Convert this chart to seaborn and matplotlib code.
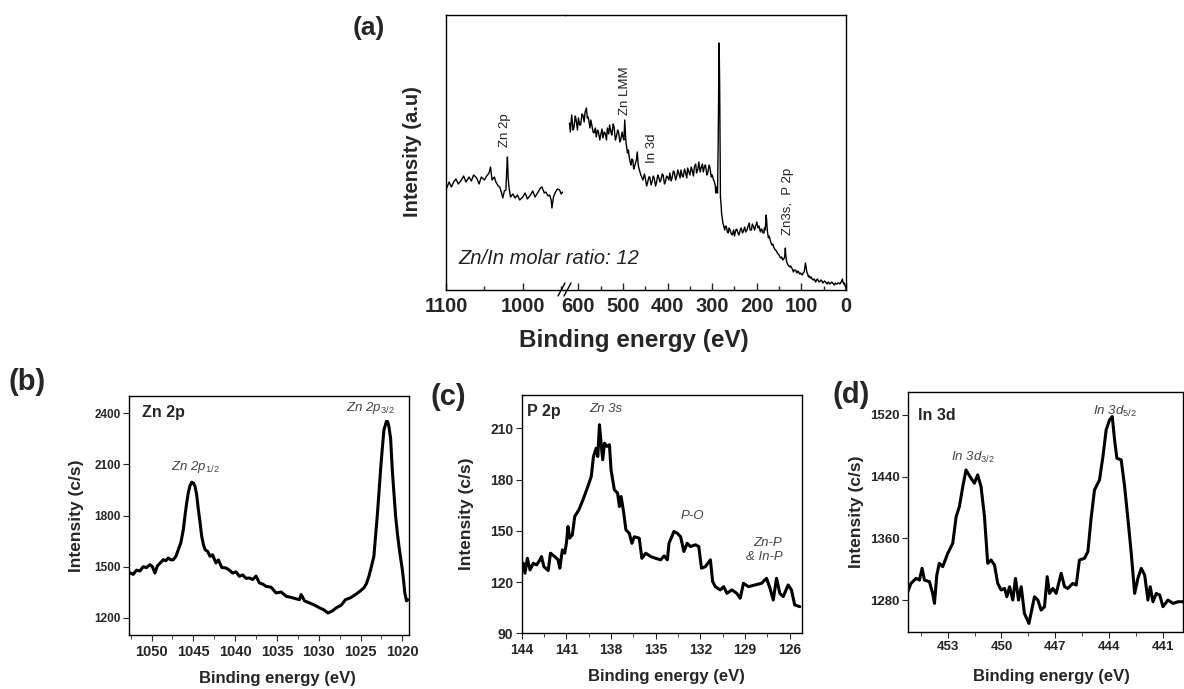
import matplotlib
matplotlib.use("Agg")
import matplotlib.pyplot as plt
from matplotlib.lines import Line2D
from matplotlib.ticker import MultipleLocator
import pandas as pd
import seaborn as sns

# ---------------- data ----------------
# (a) survey spectrum, high binding-energy segment (eV, a.u.)
survey_hi_ev = [1100, 1096, 1093, 1090, 1087, 1084, 1080, 1077, 1074, 1070, 1067, 1064, 1060, 1057, 1054,
                1050, 1047, 1044, 1042, 1040, 1037, 1035, 1032, 1030, 1028, 1026, 1024, 1022, 1021, 1020,
                1019, 1018, 1016, 1013, 1010, 1007, 1004, 1000, 997, 994, 990, 987, 984, 980, 977, 975,
                972, 970, 967, 965, 963, 962, 960, 958, 955, 952, 950, 948]
survey_hi_int = [100, 108, 103, 108, 111, 106, 110, 114, 108, 113, 109, 115, 112, 106, 113,
                 110, 114, 117, 123, 110, 113, 108, 104, 103, 98, 92, 99, 100, 118, 133,
                 112, 103, 93, 96, 92, 95, 90, 93, 97, 91, 95, 99, 93, 98, 102, 103,
                 97, 98, 94, 95, 90, 82, 93, 97, 101, 100, 96, 98]

# (a) survey spectrum, low binding-energy segment (eV, a.u.)
survey_lo_ev = [620, 618, 615, 612, 610, 607, 605, 602, 600, 597, 595, 592, 590, 587, 585, 582, 580, 578,
                576, 574, 572, 570, 567, 565, 562, 560, 557, 555, 552, 550, 547, 545, 542, 540, 537, 535,
                532, 530, 527, 525, 522, 520, 517, 515, 512, 510, 507, 505, 502, 500, 498, 496, 494, 493,
                490, 488, 486, 484, 482, 480, 478, 476, 475, 472, 470, 468, 466, 465, 462, 460, 457, 455,
                452, 450, 447, 445, 442, 440, 437, 435, 432, 430, 427, 425, 422, 420, 417, 415, 412, 410,
                407, 405, 402, 400, 397, 395, 392, 390, 387, 385, 382, 380, 377, 375, 372, 370, 367, 365,
                362, 360, 357, 355, 352, 350, 347, 345, 342, 340, 337, 335, 332, 330, 327, 325, 322, 320,
                317, 315, 312, 310, 307, 305, 302, 300, 297, 295, 293, 292, 290, 288, 286.5, 285.5, 284.5,
                283.5, 283, 282, 281.5, 280, 279, 277, 276, 274, 272, 270, 268, 266, 264, 262, 260, 257,
                255, 252, 250, 247, 245, 242, 240, 237, 235, 232, 230, 227, 225, 222, 220, 217, 215, 212,
                210, 207, 205, 202, 200, 197, 195, 192, 190, 188, 186, 184, 183, 181, 180, 179, 178, 177,
                176, 174, 172, 170, 168, 166, 164, 162, 160, 158, 156, 154, 152, 150, 148, 146, 144, 142,
                140, 138, 137, 136, 135, 133, 132, 130, 128, 126, 124, 122, 120, 118, 116, 114, 112, 110,
                108, 106, 104, 102, 100, 98, 96, 94, 93, 92, 91, 89, 88, 86, 84, 82, 80, 78, 76, 74, 72,
                70, 68, 66, 64, 62, 60, 58, 56, 54, 52, 50, 48, 46, 44, 42, 40, 38, 36, 34, 32, 30, 28,
                26, 24, 22, 20, 18, 16, 14, 12, 10, 8, 7, 5, 4, 2, 1, 0]
survey_lo_int = [167, 158, 175, 160, 162, 174, 170, 160, 172, 165, 165, 176, 175, 168, 178, 182, 172, 173,
                 168, 162, 170, 165, 158, 157, 162, 153, 160, 158, 150, 155, 161, 152, 158, 157, 150, 162,
                 156, 165, 158, 155, 166, 163, 150, 153, 160, 158, 148, 150, 158, 153, 150, 170, 152, 147,
                 137, 140, 133, 128, 125, 131, 130, 121, 122, 127, 130, 138, 126, 123, 118, 115, 112, 110,
                 116, 112, 104, 107, 113, 113, 105, 108, 114, 112, 104, 107, 115, 113, 108, 110, 116, 115,
                 106, 108, 114, 113, 110, 117, 109, 112, 119, 118, 110, 113, 120, 117, 112, 120, 114, 113,
                 121, 118, 112, 122, 118, 115, 123, 120, 114, 123, 126, 117, 121, 128, 118, 122, 126, 118,
                 124, 125, 115, 117, 125, 122, 113, 115, 110, 108, 104, 97, 103, 97, 150, 205, 247,
                 215, 190, 120, 93, 85, 77, 70, 67, 64, 60, 64, 63, 58, 57, 62, 60, 56, 55,
                 60, 54, 60, 61, 57, 55, 60, 62, 57, 59, 63, 58, 60, 63, 67, 60, 60, 66,
                 63, 60, 65, 68, 62, 64, 58, 61, 60, 57, 57, 62, 60, 68, 75, 70, 63, 58,
                 52, 54, 50, 47, 45, 46, 43, 41, 40, 39, 37, 36, 35, 33, 32, 33, 30, 31,
                 32, 36, 42, 35, 28, 27, 25, 24, 23, 24, 22, 21, 18, 20, 20, 19, 17, 19,
                 18, 16, 17, 16, 15, 17, 18, 20, 24, 27, 22, 18, 16, 13, 14, 12, 13, 11, 10, 11, 10,
                 8, 10, 11, 9, 8, 9, 10, 9, 7, 8, 9, 8, 7, 6, 8, 7, 6, 7, 8, 7, 6, 5,
                 7, 6, 6, 7, 7, 6, 7, 9, 11, 8, 6, 7, 4, 3, 1]

# (b) Zn 2p
zn2p_ev = [1052.6, 1052.2, 1051.8, 1051.4, 1051.0, 1050.6, 1050.2, 1049.9, 1049.6, 1049.3, 1049.0, 1048.6,
           1048.3, 1048.0, 1047.7, 1047.4, 1047.1, 1046.8, 1046.5, 1046.2, 1046.0, 1045.8, 1045.6, 1045.4,
           1045.2, 1045.0, 1044.8, 1044.6, 1044.4, 1044.2, 1044.0, 1043.8, 1043.6, 1043.3, 1043.0, 1042.7,
           1042.3, 1042.0, 1041.6, 1041.1, 1040.7, 1040.3, 1039.9, 1039.5, 1039.1, 1038.7, 1038.3, 1037.9,
           1037.5, 1037.1, 1036.7, 1036.3, 1035.7, 1035.1, 1034.5, 1033.9, 1033.3, 1032.7, 1032.3, 1032.1,
           1031.7, 1031.1, 1030.5, 1029.9, 1029.4, 1028.9, 1028.4, 1027.9, 1027.3, 1026.8, 1026.2, 1025.6,
           1025.1, 1024.6, 1024.3, 1024.0, 1023.7, 1023.4, 1023.2, 1023.0, 1022.8, 1022.6, 1022.4, 1022.2,
           1022.0, 1021.9, 1021.75, 1021.6, 1021.4, 1021.2, 1021.0, 1020.8, 1020.6, 1020.4, 1020.2, 1020.0,
           1019.85, 1019.7, 1019.5, 1019.35]
zn2p_int = [1465, 1455, 1480, 1475, 1500, 1495, 1512, 1500, 1463, 1505, 1520, 1541,
            1535, 1551, 1540, 1541, 1560, 1600, 1640, 1717, 1800, 1873, 1935, 1975,
            1995, 1990, 1971, 1920, 1834, 1760, 1678, 1630, 1600, 1590, 1561, 1570,
            1522, 1540, 1495, 1493, 1480, 1463, 1470, 1444, 1452, 1432, 1434, 1425,
            1445, 1405, 1398, 1385, 1380, 1346, 1352, 1327, 1320, 1312, 1307, 1337,
            1300, 1288, 1275, 1259, 1248, 1229, 1240, 1259, 1275, 1307, 1318, 1337,
            1355, 1376, 1400, 1444, 1500, 1561, 1680, 1795, 1930, 2068, 2190, 2302,
            2335, 2351, 2350, 2320, 2250, 2068, 1930, 1795, 1700, 1619, 1550, 1483,
            1420, 1346, 1300, 1307]

# (c) P 2p
p2p_ev = [144.0, 143.89, 143.78, 143.62, 143.44, 143.22, 143.0, 142.78, 142.67, 142.51, 142.22, 142.07,
          141.78, 141.56, 141.44, 141.27, 141.11, 141.0, 140.89, 140.78, 140.6, 140.44, 140.16, 139.89,
          139.56, 139.33, 139.18, 139.0, 138.89, 138.78, 138.67, 138.56, 138.44, 138.29, 138.11, 138.0,
          137.78, 137.56, 137.44, 137.33, 137.18, 137.0, 136.78, 136.6, 136.44, 136.11, 135.93, 135.67,
          135.33, 135.0, 134.67, 134.44, 134.22, 134.11, 133.78, 133.56, 133.33, 133.11, 132.89, 132.67,
          132.33, 132.11, 131.93, 131.67, 131.33, 131.18, 131.0, 130.67, 130.44, 130.22, 129.89, 129.56,
          129.33, 129.11, 128.78, 128.33, 127.89, 127.56, 127.33, 127.11, 126.89, 126.67, 126.44, 126.11,
          125.89, 125.67, 125.33]
p2p_int = [127.1, 131.0, 125.2, 133.9, 127.1, 131.0, 130.0, 133.0, 134.9, 129.0, 126.7, 136.9,
           134.9, 133.0, 128.1, 138.8, 136.9, 142.7, 152.5, 145.7, 147.6, 158.4, 162.3, 168.1,
           175.9, 181.8, 193.5, 198.4, 193.5, 212.1, 201.3, 191.6, 201.3, 199.4, 200.4, 185.7,
           174.0, 172.0, 164.2, 170.1, 162.3, 150.5, 148.6, 142.7, 146.5, 145.7, 133.9, 136.9,
           134.9, 133.9, 133.0, 135.3, 133.0, 142.7, 149.6, 148.6, 146.5, 137.9, 142.7, 140.8,
           141.8, 140.8, 128.1, 129.0, 133.0, 120.3, 117.3, 115.4, 117.3, 113.4, 115.4, 113.4,
           110.5, 119.3, 117.3, 118.3, 119.3, 122.2, 116.4, 109.5, 122.2, 113.4, 111.5, 118.3,
           115.4, 106.6, 105.6]

# (d) In 3d
in3d_ev = [455.23, 455.05, 454.77, 454.58, 454.43, 454.3, 454.02, 453.84, 453.74, 453.61, 453.47, 453.28,
           453.0, 452.72, 452.53, 452.35, 452.16, 451.98, 451.7, 451.51, 451.33, 451.14, 450.95, 450.77,
           450.58, 450.39, 450.21, 450.02, 449.83, 449.7, 449.55, 449.37, 449.22, 449.05, 448.9, 448.72,
           448.47, 448.16, 447.97, 447.79, 447.6, 447.45, 447.32, 447.13, 446.95, 446.67, 446.48, 446.3,
           446.02, 445.83, 445.65, 445.37, 445.18, 445.0, 444.81, 444.53, 444.34, 444.16, 443.97, 443.82,
           443.69, 443.56, 443.32, 443.13, 442.94, 442.76, 442.57, 442.39, 442.2, 442.01, 441.83, 441.7,
           441.55, 441.36, 441.17, 440.99, 440.71, 440.43, 440.15, 439.87]
in3d_int = [1290.8, 1301.6, 1308.1, 1305.9, 1321.1, 1305.9, 1303.8, 1288.6, 1275.7, 1312.4, 1327.6, 1323.2,
            1340.5, 1353.5, 1388.1, 1401.1, 1427.0, 1448.6, 1437.8, 1431.4, 1442.2, 1427.0, 1388.1, 1327.6,
            1331.9, 1325.4, 1301.6, 1293.0, 1295.1, 1284.3, 1297.3, 1280.0, 1308.1, 1280.0, 1297.3, 1262.7,
            1249.7, 1284.3, 1280.0, 1267.0, 1271.4, 1310.3, 1288.6, 1295.1, 1288.6, 1314.6, 1297.3, 1295.1,
            1301.6, 1299.5, 1331.9, 1334.1, 1342.7, 1386.0, 1422.7, 1435.7, 1466.0, 1500.5, 1513.5, 1517.8,
            1487.6, 1463.8, 1461.6, 1427.0, 1383.8, 1340.5, 1288.6, 1308.1, 1321.1, 1312.4, 1280.0, 1297.3,
            1277.8, 1288.6, 1286.5, 1271.4, 1280.0, 1275.7, 1277.8, 1277.8]

# ---------------- style ----------------
sns.set_style("ticks")
plt.rcParams['font.family'] = ['Liberation Sans', 'DejaVu Sans']
plt.rcParams['mathtext.fontset'] = 'custom'
plt.rcParams['mathtext.rm'] = 'Liberation Sans'
plt.rcParams['mathtext.it'] = 'Liberation Sans:italic'
plt.rcParams['axes.linewidth'] = 1.0
plt.rcParams['axes.edgecolor'] = 'black'

W, H = 1184, 689
fig = plt.figure(figsize=(W / 100, H / 100), dpi=100)


def fax(l, t, r, b):
    return [l / W, 1 - b / H, (r - l) / W, (b - t) / H]


def bold_ticks(ax):
    for lab in ax.get_xticklabels() + ax.get_yticklabels():
        lab.set_fontweight('bold')


# ---------------- (a) survey ----------------
axL = fig.add_axes(fax(446, 15, 565, 290))
axR = fig.add_axes(fax(565, 15, 846, 290))

dfh = pd.DataFrame({'ev': survey_hi_ev, 'int': survey_hi_int})
dfl = pd.DataFrame({'ev': survey_lo_ev, 'int': survey_lo_int})
sns.lineplot(data=dfh, x='ev', y='int', ax=axL, color='black', lw=1.0, sort=False, estimator=None)
sns.lineplot(data=dfl, x='ev', y='int', ax=axR, color='black', lw=1.0, sort=False, estimator=None)

axL.set_xlim(1100, 945)
axR.set_xlim(630, 0)
axL.set_ylim(0, 275)
axR.set_ylim(0, 275)
axL.spines['right'].set_visible(False)
axR.spines['left'].set_visible(False)
for a in (axL, axR):
    a.tick_params(axis='y', which='both', left=False, right=False, labelleft=False)
    a.tick_params(axis='x', which='both', top=False)
axL.set_xticks([1100, 1000])
axL.xaxis.set_minor_locator(MultipleLocator(50))
axR.set_xticks([600, 500, 400, 300, 200, 100, 0])
axR.xaxis.set_minor_locator(MultipleLocator(50))
for a in (axL, axR):
    a.tick_params(axis='x', which='major', direction='in', length=5, width=1, labelsize=14.5, pad=5)
    a.tick_params(axis='x', which='minor', direction='in', length=3, width=1)
    a.set_xlabel('')
    a.set_ylabel('')
    bold_ticks(a)
    a.patch.set_alpha(0)

# break marks
for dx in (0, 6):
    fig.add_artist(Line2D([(558 + dx) / W, (565 + dx) / W], [1 - 296 / H, 1 - 283 / H],
                          color='black', lw=1.0))

fig.text(412 / W, 1 - 152 / H, 'Intensity (a.u)', rotation=90, ha='center', va='center',
         fontsize=14.5, fontweight='bold')
fig.text(634 / W, 1 - 340 / H, 'Binding energy (eV)', ha='center', va='center',
         fontsize=17.5, fontweight='bold')
fig.text(458 / W, 1 - 259 / H, 'Zn/In molar ratio: 12', ha='left', va='center',
         fontsize=14.5, fontstyle='italic', color='#222222')

axL.text(1023.7, 143, 'Zn 2p', rotation=90, ha='center', va='bottom', fontsize=9.5, color='#222222')
axR.text(495.4, 175, 'Zn LMM', rotation=90, ha='center', va='bottom', fontsize=9.5, color='#222222')
axR.text(435.6, 127, 'In 3d', rotation=90, ha='center', va='bottom', fontsize=9.5, color='#222222')
axR.text(129.1, 55, 'Zn3s,  P 2p', rotation=90, ha='center', va='bottom', fontsize=9.5, color='#222222')

# ---------------- (b) Zn 2p ----------------
axb = fig.add_axes(fax(129, 396, 409, 635))
dfb = pd.DataFrame({'ev': zn2p_ev, 'int': zn2p_int})
sns.lineplot(data=dfb, x='ev', y='int', ax=axb, color='black', lw=2.2, sort=False, estimator=None)
axb.set_xlim(1052.7, 1019.2)
axb.set_ylim(1100, 2500)
axb.set_xticks([1050, 1045, 1040, 1035, 1030, 1025, 1020])
axb.xaxis.set_minor_locator(MultipleLocator(2.5))
axb.set_yticks([1200, 1500, 1800, 2100, 2400])
axb.tick_params(axis='x', which='major', direction='out', length=4, labelsize=10.5, pad=3)
axb.tick_params(axis='x', which='minor', direction='out', length=3)
axb.tick_params(axis='y', which='major', direction='out', length=4, labelsize=8.5, pad=2)
bold_ticks(axb)
axb.set_xlabel('Binding energy (eV)', fontsize=12, fontweight='bold')
axb.set_ylabel('Intensity (c/s)', fontsize=12.5, fontweight='bold')
axb.xaxis.set_label_coords(0.53, -0.152)
axb.yaxis.set_label_coords(-0.161, 0.5)
axb.text(0.045, 0.93, 'Zn 2p', transform=axb.transAxes, fontsize=11.5, fontweight='bold', va='center')
axb.text(1044.8, 2040, r'Zn 2p$_{\mathit{1/2}}$', ha='center', va='bottom', fontsize=9.5,
         fontstyle='italic', color='#444444')
axb.text(1023.8, 2385, r'Zn 2p$_{\mathit{3/2}}$', ha='center', va='bottom', fontsize=9.5,
         fontstyle='italic', color='#444444')

# ---------------- (c) P 2p ----------------
axc = fig.add_axes(fax(521.7, 395, 801.7, 633.3))
dfc = pd.DataFrame({'ev': p2p_ev, 'int': p2p_int})
sns.lineplot(data=dfc, x='ev', y='int', ax=axc, color='black', lw=2.2, sort=False, estimator=None)
axc.set_xlim(144, 125.2)
axc.set_ylim(90, 229.5)
axc.set_xticks([144, 141, 138, 135, 132, 129, 126])
axc.xaxis.set_minor_locator(MultipleLocator(1.5))
axc.set_yticks([90, 120, 150, 180, 210])
axc.tick_params(axis='x', which='major', direction='out', length=4, labelsize=10, pad=3)
axc.tick_params(axis='x', which='minor', direction='out', length=3)
axc.tick_params(axis='y', which='major', direction='out', length=4, labelsize=10, pad=2)
bold_ticks(axc)
axc.set_xlabel('Binding energy (eV)', fontsize=12, fontweight='bold')
axc.set_ylabel('Intensity (c/s)', fontsize=12.5, fontweight='bold')
axc.xaxis.set_label_coords(0.518, -0.15)
axc.yaxis.set_label_coords(-0.170, 0.5)
axc.text(0.02, 0.93, 'P 2p', transform=axc.transAxes, fontsize=11.5, fontweight='bold', va='center')
axc.text(138.33, 218, 'Zn 3s', ha='center', va='bottom', fontsize=9.5, fontstyle='italic', color='#444444')
axc.text(132.56, 155.4, 'P-O', ha='center', va='bottom', fontsize=9.5, fontstyle='italic', color='#444444')
axc.text(126.5, 131, 'Zn-P\n& In-P', ha='right', va='bottom', fontsize=9.5, fontstyle='italic',
         color='#444444', multialignment='right', linespacing=1.2)

# ---------------- (d) In 3d ----------------
axd = fig.add_axes(fax(908.3, 391.7, 1182.5, 631.7))
dfd = pd.DataFrame({'ev': in3d_ev, 'int': in3d_int})
sns.lineplot(data=dfd, x='ev', y='int', ax=axd, color='black', lw=2.2, sort=False, estimator=None)
axd.set_xlim(455.2, 439.9)
axd.set_ylim(1239, 1550)
axd.set_xticks([453, 450, 447, 444, 441])
axd.xaxis.set_minor_locator(MultipleLocator(1.5))
axd.set_yticks([1280, 1360, 1440, 1520])
axd.tick_params(axis='x', which='major', direction='out', length=4, labelsize=9.5, pad=3)
axd.tick_params(axis='x', which='minor', direction='out', length=3)
axd.tick_params(axis='y', which='major', direction='out', length=4, labelsize=9.5, pad=2)
bold_ticks(axd)
axd.set_xlabel('Binding energy (eV)', fontsize=12, fontweight='bold')
axd.set_ylabel('Intensity (c/s)', fontsize=12.5, fontweight='bold')
axd.xaxis.set_label_coords(0.522, -0.155)
axd.yaxis.set_label_coords(-0.161, 0.5)
axd.text(0.035, 0.90, 'In 3d', transform=axd.transAxes, fontsize=11.5, fontweight='bold', va='center')
axd.text(451.6, 1455, r'In 3d$_{\mathit{3/2}}$', ha='center', va='bottom', fontsize=9.5,
         fontstyle='italic', color='#444444')
axd.text(443.65, 1514, r'In 3d$_{\mathit{5/2}}$', ha='center', va='bottom', fontsize=9.5,
         fontstyle='italic', color='#444444')

# ---------------- panel letters ----------------
fig.text(369 / W, 1 - 28 / H, '(a)', ha='center', va='center', fontsize=19, fontweight='bold')
fig.text(27 / W, 1 - 382 / H, '(b)', ha='center', va='center', fontsize=21, fontweight='bold')
fig.text(448 / W, 1 - 397 / H, '(c)', ha='center', va='center', fontsize=21, fontweight='bold')
fig.text(851 / W, 1 - 395 / H, '(d)', ha='center', va='center', fontsize=21, fontweight='bold')

fig.savefig('out.png', dpi=100)
